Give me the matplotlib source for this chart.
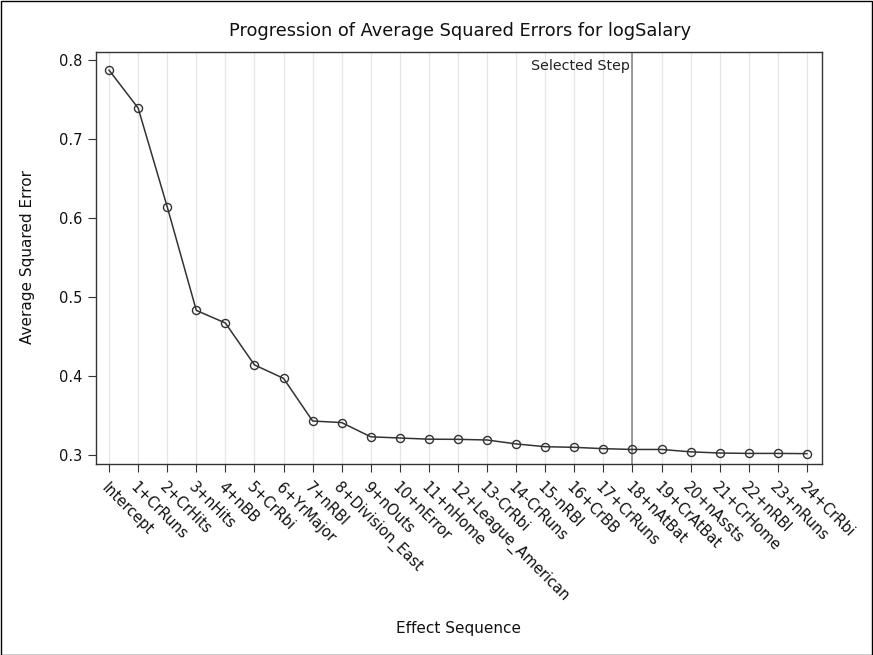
import matplotlib
matplotlib.use("Agg")
import matplotlib.pyplot as plt
from matplotlib.patches import Rectangle

plt.rcParams['font.family'] = ['DejaVu Sans']

effects = ["Intercept", "1+CrRuns", "2+CrHits", "3+nHits", "4+nBB", "5+CrRbi",
           "6+YrMajor", "7+nRBI", "8+Division_East", "9+nOuts", "10+nError",
           "11+nHome", "12+League_American", "13-CrRbi", "14-CrRuns", "15-nRBI",
           "16+CrBB", "17+CrRuns", "18+nAtBat", "19+CrAtBat", "20+nAssts",
           "21+CrHome", "22+nRBI", "23+nRuns", "24+CrRbi"]
ase = [0.787, 0.739, 0.614, 0.483, 0.467, 0.414, 0.397, 0.343, 0.341, 0.323,
       0.3215, 0.320, 0.3198, 0.319, 0.314, 0.3105, 0.3097, 0.308, 0.307, 0.307,
       0.304, 0.3025, 0.302, 0.302, 0.3017]
selected_step = 18
yticks = [0.3, 0.4, 0.5, 0.6, 0.7, 0.8]

W, H = 873, 655
fig = plt.figure(figsize=(W / 100, H / 100), dpi=100)
ax = fig.add_axes([96 / W, 1 - 464 / H, (822 - 96) / W, (464 - 52) / H])

x = list(range(len(effects)))
ax.plot(x, ase, color='#333333', lw=1.1, marker='o', ms=5.8, mfc='none',
        mec='#333333', mew=1.0, zorder=3)

ax.axvline(selected_step, color='#8c8c8c', lw=1.2, zorder=2)
ax.text(selected_step - 0.1, 0.8015, "Selected Step", ha='right', va='top',
        fontsize=10.3, color='#222222')

ax.set_xlim(-0.45, len(effects) - 0.48)
ax.set_ylim(0.2886, 0.810)
ax.set_xticks(x)
ax.set_xticklabels(effects, rotation=-45, ha='left', va='top',
                   rotation_mode='anchor', fontsize=10.5, color='#111111')
ax.set_yticks(yticks)
ax.set_yticklabels([f"{v:.1f}" for v in yticks], fontsize=10.5, color='#111111')
ax.tick_params(axis='both', direction='out', length=5.5, width=0.8, color='#333333')
ax.tick_params(axis='x', pad=6)
ax.tick_params(axis='y', pad=4.5)
ax.xaxis.grid(True, color='#e6e6e6', lw=0.9)
ax.set_axisbelow(True)
for s in ax.spines.values():
    s.set_color('#333333')
    s.set_linewidth(1.0)

fig.text(460 / W, 1 - 31 / H, "Progression of Average Squared Errors for logSalary",
         ha='center', va='center', fontsize=12.8, color='#111111')
fig.text(459 / W, 1 - 629 / H, "Effect Sequence", ha='center', va='center',
         fontsize=11, color='#111111')
fig.text(28 / W, 1 - 257 / H, "Average Squared Error", ha='center', va='center',
         rotation=90, fontsize=11, color='#111111')

fig.add_artist(Rectangle((0.5 / W, 0.5 / H), 1 - 1.5 / W, 1 - 1.5 / H,
                         transform=fig.transFigure, fill=False, ec='black', lw=1.0))

fig.savefig("out.png", dpi=100)
